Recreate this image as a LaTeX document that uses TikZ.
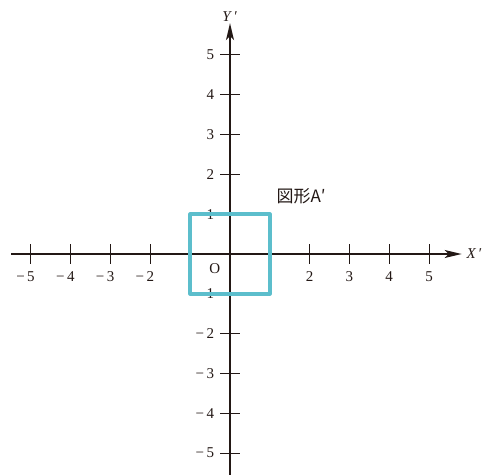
\documentclass[tikz,border=0pt]{standalone}
\usepackage{fontspec}
\setmainfont{Liberation Serif}
\newfontfamily\jpfont{Noto Sans CJK JP}
\usetikzlibrary{arrows.meta}
\definecolor{figcyan}{RGB}{92,190,204}
\definecolor{ink}{RGB}{35,24,21}
\begin{document}
\begin{tikzpicture}[x=39.8pt,y=39.8pt, font=\fontsize{15}{17}\selectfont, line join=round, >={Stealth[length=17pt,width=8pt,inset=4pt]}, color=ink]
    \tikzset{tick/.style={line width=1pt}, axis/.style={line width=1.5pt}}
    \useasboundingbox (-230/39.8,-220/39.8) rectangle (265/39.8,254/39.8);
    \coordinate (xl) at (-5.5,0); \coordinate (xr) at (5.82,0);
    \coordinate (yb) at (0,-5.55); \coordinate (yt) at (0,5.8);
    \draw[axis,->] (xl)--(xr) node[right=1pt] (xlbl) {\textit{X}\,′};
    \draw[axis,->] (yb)--(yt) node[above=-2pt] (ylbl) {\textit{Y}\,′};
			\foreach \t in {-5,-4,-3,-2,-1,1,2,3,4,5} {\draw[tick] (\t,-0.24)--(\t,0.24); \draw[tick] (-0.24,\t)--(0.24,\t);}
			\foreach \t/\nm in {5/xm5,4/xm4,3/xm3,2/xm2} \node[anchor=north] (\nm) at (-\t,-0.36) {\llap{−\,}\t};
			\foreach \t/\nm in {2/xp2,3/xp3,4/xp4,5/xp5} \node[anchor=north] (\nm) at (\t,-0.36) {\t};
			\foreach \t/\nm in {5/ym5,4/ym4,3/ym3,2/ym2,1/ym1} \node[anchor=east,inner sep=1pt] (\nm) at (-0.37,-\t) {−\,\t};
			\foreach \t/\nm in {1/yp1,2/yp2,3/yp3,4/yp4,5/yp5} \node[anchor=east,inner sep=1pt] (\nm) at (-0.37,\t) {\t};
			\node (o) at (-0.38,-0.36) {O};
			\draw[figcyan,line width=3.5pt] (-1,-1) rectangle (1,1);
			\node[anchor=west,font=\jpfont\fontsize{17}{19}\selectfont] (fig) at (1.08,1.45) {図形A′};
    \end{tikzpicture}
\end{document}
